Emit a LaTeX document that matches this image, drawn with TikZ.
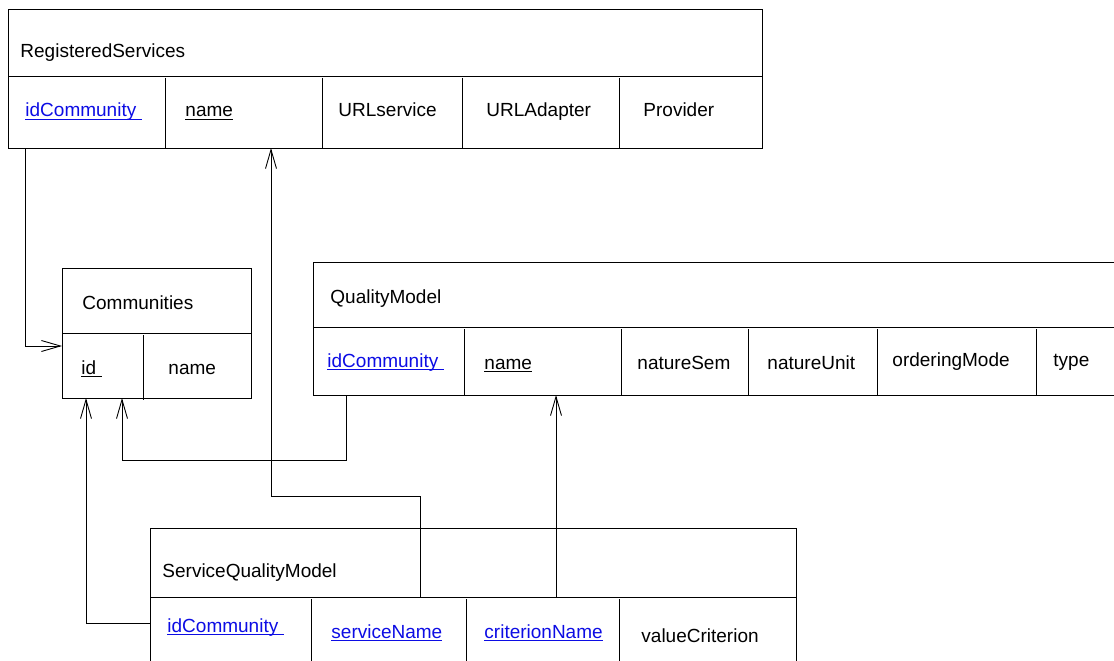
\documentclass[tikz,border=0pt]{standalone}
\usepackage{fontspec}
\setmainfont{Liberation Sans}
\usetikzlibrary{arrows.meta}
\definecolor{keyblue}{RGB}{12,12,228}
\newcommand\ukey[2][0bp]{\setbox0\hbox{#2\kern#1}\rlap{\rule[-3bp]{\wd0}{1bp}}\box0}
\tikzset{
	tbl/.style={draw, line width=0.9bp, anchor=north west, inner sep=0pt, outer sep=0pt},
	fld/.style={anchor=base west, inner sep=0pt, font=\fontsize{19bp}{23bp}\selectfont},
	fkey/.style={fld, text=keyblue},
	link/.style={line width=0.9bp, -{Straight Barb[length=19bp,width=11bp]}},
}

\begin{document}
\begin{tikzpicture}[x=1bp, y=-1bp, line width=0.9bp]
		%%%%% START %%%%%
		\clip (0,0) rectangle (1114,661);
		
		% RegisteredServices
		\node[tbl, minimum width=754bp, minimum height=139bp] (rs) at (8,9) {};
		\draw (8,76) -- (762,76);
		\foreach \x in {165,322,462,619} \draw (\x,78) -- (\x,148);
		\node[fld] (rsTitle) at (20,58) {RegisteredServices};
		\node[fkey] (rsId) at (25,117) {\ukey[6bp]{idCommunity}};
		\node[fld] (rsName) at (185,117) {\ukey{name}};
		\node[fld] (rsUrl) at (338,117) {URLservice};
		\node[fld] (rsAdapter) at (486,117) {URLAdapter};
		\node[fld] (rsProvider) at (643,117) {Provider};
		
		% Communities
		\node[tbl, minimum width=189bp, minimum height=130bp] (com) at (62,268) {};
		\draw (62,333) -- (251,333);
		\draw (143,335) -- (143,400);
		\node[fld] (comTitle) at (82,309) {Communities};
		\node[fld] (comId) at (81,374) {\ukey[6bp]{id}};
		\node[fld] (comName) at (168,374) {name};
		
		% QualityModel
		\node[tbl, minimum width=820bp, minimum height=133bp] (qm) at (313,262) {};
		\draw (313,327) -- (1133,327);
		\foreach \x in {464,621,748,877,1036} \draw (\x,329) -- (\x,395);
		\node[fld] (qmTitle) at (330,303) {QualityModel};
		\node[fkey] (qmId) at (327,367) {\ukey[6bp]{idCommunity}};
		\node[fld] (qmName) at (484,369) {\ukey{name}};
		\node[fld] (qmSem) at (637,369) {natureSem};
		\node[fld] (qmUnit) at (767,369) {natureUnit};
		\node[fld] (qmOrder) at (892,366) {orderingMode};
		\node[fld] (qmType) at (1053,366) {type};
		
		% ServiceQualityModel
		\node[tbl, minimum width=646bp, minimum height=160bp] (sqm) at (150,528) {};
		\coordinate (sqmHead) at (150,597);
		\draw (sqmHead) -- (796,597);
		\foreach \x in {311,466,619} \draw (\x,599) -- (\x,688);
		\node[fld] (sqmTitle) at (162,577) {ServiceQualityModel};
		\node[fkey] (sqmId) at (167,632) {\ukey[6bp]{idCommunity}};
		\node[fkey] (sqmService) at (331,638) {\ukey{serviceName}};
		\node[fkey] (sqmCrit) at (484,638) {\ukey{criterionName}};
		\node[fld] (sqmValue) at (641,642) {valueCriterion};
		
		% foreign keys
		\draw[link] (rsId.west |- rs.south) |- (com.west |- 0,346);
		\draw[link] (sqmHead -| 420,0) |- (271,496) -- (rs.south -| 271,0);
		\draw[link] (sqmHead -| 556,0) -- (qm.south -| 556,0);
		\draw[link] (qm.south -| 346,0) |- (122,460) -- (com.south -| 122,0);
		\draw[link] (sqm.west |- 0,623) -| (com.south -| 86,0);
		
		%%%%% END %%%%%
\end{tikzpicture}
\end{document}
